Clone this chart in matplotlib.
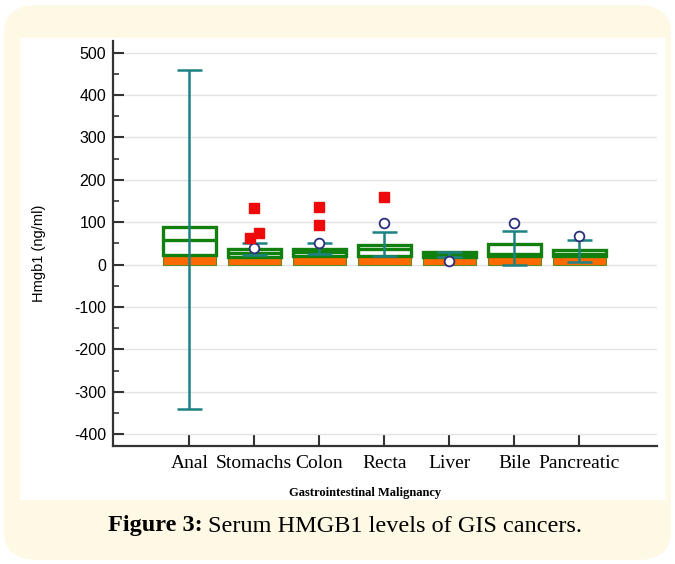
import numpy as np
import matplotlib.pyplot as plt
from matplotlib.patches import FancyBboxPatch, Rectangle
from matplotlib.ticker import MultipleLocator

plt.rcParams["axes.unicode_minus"] = False

# valores
grupos = ["Anal", "Stomachs", "Colon", "Recta", "Liver", "Bile", "Pancreatic"]
q1 = [23, 18, 21, 21, 19, 21, 20]
mediana = [57, 28, 30, 36, 24, 26, 26]
q3 = [88, 37, 38, 47, 29, 48, 35]
bigote_bajo = [-340, 23, 24, 21, 17, -1, 7]
bigote_alto = [460, 52, 52, 78, 29, 79, 58]

# outliers (indice del grupo, valor)
circulos_x = [1, 2, 3, 4, 5, 6]
circulos_y = [39, 50, 97, 8, 97, 68]
cuadrados_x = [1.07, 0.93, 1.0, 2, 2, 3]
cuadrados_y = [74, 63, 133, 137, 94, 160]

naranja = "#ff6a00"
verde = "#12800f"
teal = "#1d8282"
azul = "#2d2d7d"
rojo = "#ee0a0a"

fig = plt.figure(figsize=(6.75, 5.64), dpi=100)

# fondo crema con esquinas redondeadas y panel blanco
fig.patches.append(FancyBboxPatch((4 / 675, 4 / 564), 667 / 675, 555 / 564,
                                  boxstyle="round,pad=0,rounding_size=0.05",
                                  transform=fig.transFigure, facecolor="#fef9e4",
                                  edgecolor="none", zorder=-2))
fig.patches.append(Rectangle((20 / 675, 1 - 500 / 564), 646 / 675, 462 / 564,
                             transform=fig.transFigure, facecolor="white",
                             edgecolor="none", zorder=-1))

ax = fig.add_axes([113 / 675, 1 - 445.7 / 564, 544.3 / 675, 405 / 564])
ax.set_facecolor("none")

x = np.arange(len(grupos))
ancho = 0.82

# barra naranja de 0 a q1
ax.bar(x, q1, width=ancho, color=naranja, edgecolor="#5f8a20", linewidth=0.8, zorder=2)

# caja verde q1-q3 con mediana
ax.bar(x, np.array(q3) - np.array(q1), bottom=q1, width=ancho, facecolor="white",
       edgecolor=verde, linewidth=2.4, zorder=3)
ax.hlines(mediana, x - ancho / 2, x + ancho / 2, color=verde, linewidth=2.4, zorder=3)

# bigotes
ax.vlines(x, bigote_bajo, bigote_alto, color=teal, linewidth=1.8, zorder=4)
ax.hlines(bigote_bajo, x - 0.19, x + 0.19, color=teal, linewidth=1.8, zorder=4)
ax.hlines(bigote_alto, x - 0.19, x + 0.19, color=teal, linewidth=1.8, zorder=4)

ax.plot(circulos_x, circulos_y, "o", markersize=7, markerfacecolor="white",
        markeredgecolor=azul, markeredgewidth=1.3, linestyle="none", zorder=5)
ax.plot(cuadrados_x, cuadrados_y, "s", markersize=6.5, color=rojo,
        linestyle="none", zorder=5)

ax.set_xlim(-1.174, 7.2)
ax.set_ylim(-427, 528)
ax.set_xticks(x)
ax.set_xticklabels(grupos, fontfamily="Liberation Serif", fontsize=14)
ax.set_yticks(np.arange(-400, 501, 100))
ax.yaxis.set_minor_locator(MultipleLocator(50))
for t in ax.get_yticklabels():
    t.set_fontfamily("Liberation Sans")
    t.set_fontsize(11.5)

ax.grid(axis="y", color="#e3e3e3", linewidth=1.0, zorder=0)
ax.set_axisbelow(True)

for lado in ["top", "right"]:
    ax.spines[lado].set_visible(False)
for lado in ["left", "bottom"]:
    ax.spines[lado].set_color("#333333")
    ax.spines[lado].set_linewidth(1.6)

ax.tick_params(axis="y", which="major", direction="in", length=8, width=1.5,
               color="#333333", pad=5)
ax.tick_params(axis="y", which="minor", direction="in", length=4, width=1.2,
               color="#333333")
ax.tick_params(axis="x", direction="in", length=8, width=1.5, color="#333333", pad=7)

ax.set_ylabel("Hmgb1 (ng/ml)", fontfamily="Liberation Sans", fontsize=10.5)
ax.yaxis.set_label_coords(-0.123, 0.476)
ax.set_xlabel("Gastrointestinal Malignancy", fontfamily="Liberation Serif",
              fontweight="bold", fontsize=9)
ax.xaxis.set_label_coords(0.463, -0.102)

# pie de figura: parte en negrita y luego el resto a continuacion
y_pie = 1 - 526 / 564
neg = fig.text(108 / 675, y_pie, "Figure 3:", fontfamily="Liberation Serif",
               fontweight="bold", fontsize=17.5, ha="left", va="center")
fig.canvas.draw()
bb = neg.get_window_extent()
fig.text((bb.x1 + 5) / 675, y_pie, "Serum HMGB1 levels of GIS cancers.",
         fontfamily="Liberation Serif", fontsize=17.5, ha="left", va="center")

fig.savefig("out.png", dpi=100)
